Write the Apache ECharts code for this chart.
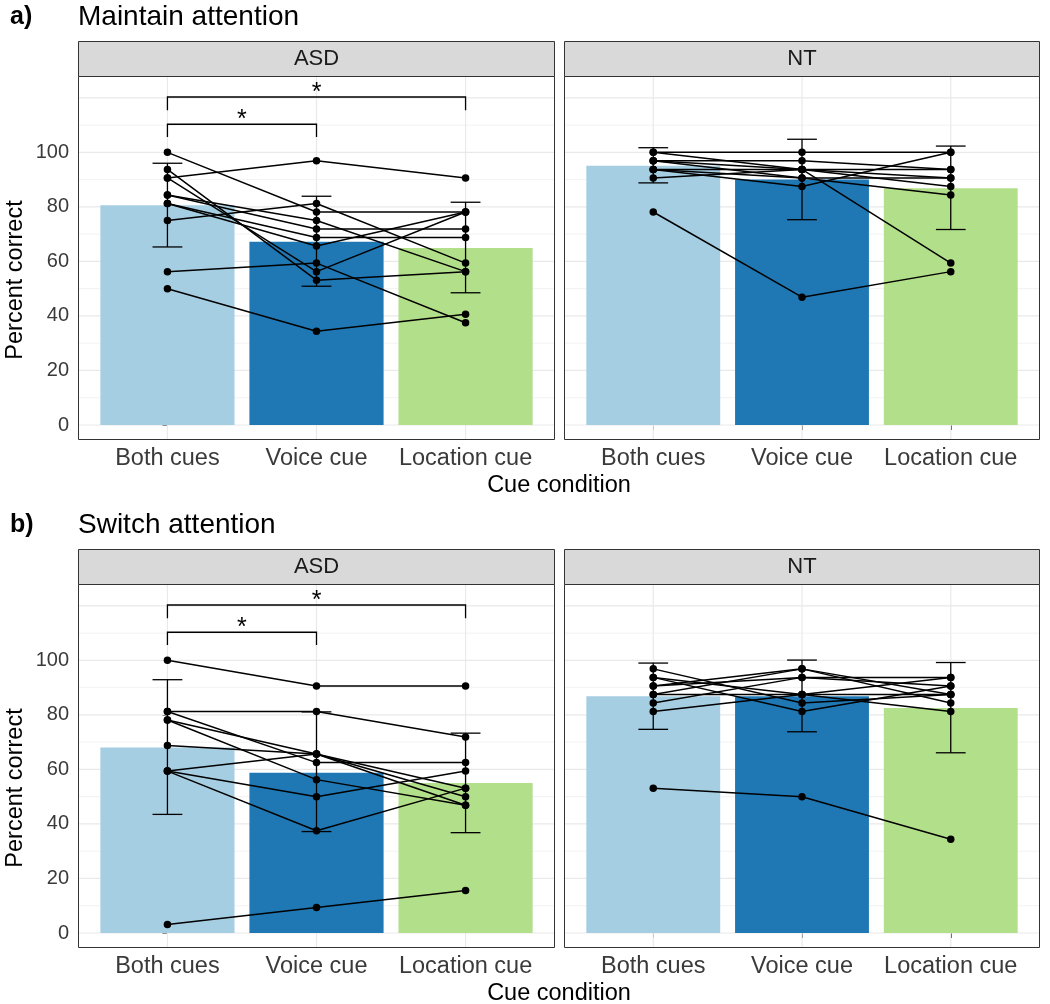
<!DOCTYPE html>
<html><head><meta charset="utf-8">
<script src="https://cdn.jsdelivr.net/npm/echarts@6/dist/echarts.min.js"></script>
<style>html,body{margin:0;padding:0;background:#fff}#c{width:1050px;height:1004px}</style>
</head><body><div id="c"></div><script>
// ---------- data ----------
const categories = ['Both cues', 'Voice cue', 'Location cue'];
const groups = ['ASD', 'NT'];
const sectionTags = ['a)', 'b)'];
const sectionTitles = ['Maintain attention', 'Switch attention'];
const yTickLabels = [0, 20, 40, 60, 80, 100];
const majorGrid = [0, 20, 40, 60, 80, 100, 120];
const minorGrid = [10, 30, 50, 70, 90, 110];
const barColors = ['#a6cee3', '#1f78b4', '#b2df8a'];

const maintainASDMean = [80.6, 67.2, 64.9];
const maintainASDLow = [65.3, 50.9, 48.5];
const maintainASDHigh = [96.0, 83.9, 81.7];
const maintainNTMean = [95.1, 90.0, 86.8];
const maintainNTLow = [88.8, 75.3, 71.7];
const maintainNTHigh = [101.7, 104.8, 102.3];
const switchASDMean = [68.0, 58.8, 55.0];
const switchASDLow = [43.5, 37.2, 36.8];
const switchASDHigh = [92.9, 81.1, 73.3];
const switchNTMean = [86.8, 86.8, 82.5];
const switchNTLow = [74.7, 73.8, 66.1];
const switchNTHigh = [99.0, 100.1, 99.2];

// individual participants: [Both, Voice, Location]
const maintainASDSubjects = [
  [100, 78.125, 78.125],
  [93.75, 53.125, 56.25],
  [90.625, 96.875, 90.625],
  [90.625, 56.25, 78.125],
  [84.375, 75, 56.25],
  [84.375, 71.875, 71.875],
  [81.25, 68.75, 68.75],
  [81.25, 65.625, 78.125],
  [75, 81.25, 59.375],
  [56.25, 59.375, 37.5],
  [50, 34.375, 40.625]
];
const maintainNTSubjects = [
  [100, 100, 100],
  [96.875, 96.875, 93.75],
  [96.875, 93.75, 59.375],
  [93.75, 90.625, 90.625],
  [100, 93.75, 93.75],
  [93.75, 87.5, 100],
  [90.625, 93.75, 87.5],
  [96.875, 90.625, 84.375],
  [78.125, 46.875, 56.25],
  [93.75, 93.75, 90.625]
];
const switchASDSubjects = [
  [100, 90.625, 90.625],
  [3.125, 9.375, 15.625],
  [81.25, 81.25, 71.875],
  [81.25, 62.5, 62.5],
  [78.125, 65.625, 50],
  [78.125, 56.25, 46.875],
  [68.75, 65.625, 53.125],
  [59.375, 65.625, 46.875],
  [59.375, 50, 59.375],
  [59.375, 37.5, 53.125]
];
const switchNTSubjects = [
  [96.875, 84.375, 87.5],
  [93.75, 81.25, 90.625],
  [90.625, 96.875, 84.375],
  [90.625, 93.75, 93.75],
  [87.5, 96.875, 87.5],
  [87.5, 87.5, 81.25],
  [84.375, 93.75, 90.625],
  [81.25, 87.5, 93.75],
  [93.75, 87.5, 87.5],
  [53.125, 50, 34.375]
];

// significance brackets (ASD panels)
const bracketFrom = [0, 0];
const bracketTo = [1, 2];
const bracketY = [110.3, 120.3];
const bracketTip = [105.6, 115.4];
const bracketLabel = ['*', '*'];

// ---------- layout ----------
const FONT = '"Liberation Sans", Arial, Helvetica, sans-serif';
const panelLeft = [78, 564];
const panelWidth = [477, 476];
const panelTop = [76, 584];
const panelHeight = 364;
const stripH = 35;
const yMin = -5.5, yMax = 128;
const xMin = -0.6, xMax = 2.6;
const tickTextColor = '#3a3a3a';

const panelDefs = [
  { row: 0, col: 0, mean: maintainASDMean, low: maintainASDLow, high: maintainASDHigh, subj: maintainASDSubjects, sig: true },
  { row: 0, col: 1, mean: maintainNTMean, low: maintainNTLow, high: maintainNTHigh, subj: maintainNTSubjects, sig: false },
  { row: 1, col: 0, mean: switchASDMean, low: switchASDLow, high: switchASDHigh, subj: switchASDSubjects, sig: true },
  { row: 1, col: 1, mean: switchNTMean, low: switchNTLow, high: switchNTHigh, subj: switchNTSubjects, sig: false }
];
const catIdx = categories.map((c, k) => k);

const grids = [], xAxes = [], yAxes = [], series = [], graphics = [];

panelDefs.forEach((p, i) => {
  const left = panelLeft[p.col], width = panelWidth[p.col], top = panelTop[p.row];
  grids.push({ left: left, top: top, width: width, height: panelHeight, containLabel: false });
  xAxes.push({
    gridIndex: i, type: 'value', min: xMin, max: xMax,
    axisLine: { show: false }, splitLine: { show: false },
    axisTick: { show: true, customValues: catIdx, length: 5, lineStyle: { color: '#333', width: 1 } },
    axisLabel: { customValues: catIdx, formatter: v => categories[Math.round(v)], fontSize: 23.5, color: tickTextColor, margin: 7, fontFamily: FONT }
  });
  const isLeft = p.col === 0;
  yAxes.push({
    gridIndex: i, type: 'value', min: yMin, max: yMax,
    axisLine: { show: false }, splitLine: { show: false },
    axisTick: { show: isLeft, customValues: yTickLabels, length: 5, lineStyle: { color: '#333', width: 1 } },
    axisLabel: { show: isLeft, customValues: yTickLabels, fontSize: 20, color: tickTextColor, margin: 9, fontFamily: FONT }
  });

  // grid lines
  const gdata = [].concat(
    majorGrid.map(v => [0, v, 0, 0]),
    minorGrid.map(v => [0, v, 0, 1]),
    catIdx.map(v => [v, 0, 1, 0])
  );
  series.push({
    type: 'custom', xAxisIndex: i, yAxisIndex: i, z: 1, silent: true, animation: false,
    data: gdata,
    renderItem: (params, api) => {
      const cs = params.coordSys;
      const minor = api.value(3) === 1;
      const style = { stroke: minor ? '#f1f1f1' : '#e9e9e9', lineWidth: minor ? 0.9 : 1.2 };
      if (api.value(2) === 0) {
        const y = api.coord([0, api.value(1)])[1];
        return { type: 'line', shape: { x1: cs.x, y1: y, x2: cs.x + cs.width, y2: y }, style };
      }
      const x = api.coord([api.value(0), 0])[0];
      return { type: 'line', shape: { x1: x, y1: cs.y, x2: x, y2: cs.y + cs.height }, style };
    }
  });

  // bars
  const bw = 0.9 * width / (xMax - xMin);
  series.push({
    type: 'bar', xAxisIndex: i, yAxisIndex: i, z: 2, silent: true, animation: false,
    barWidth: bw,
    data: p.mean.map((m, k) => ({ value: [k, m], itemStyle: { color: barColors[k] } }))
  });

  // error bars
  series.push({
    type: 'custom', xAxisIndex: i, yAxisIndex: i, z: 3, silent: true, animation: false,
    data: p.mean.map((m, k) => [k, p.low[k], p.high[k]]),
    renderItem: (params, api) => {
      const x = api.value(0);
      const lo = api.coord([x, api.value(1)]);
      const hi = api.coord([x, api.value(2)]);
      const half = api.size([0.2, 0])[0] / 2;
      const st = { stroke: '#000', lineWidth: 1.3 };
      return { type: 'group', children: [
        { type: 'line', shape: { x1: lo[0], y1: lo[1], x2: hi[0], y2: hi[1] }, style: st },
        { type: 'line', shape: { x1: lo[0] - half, y1: lo[1], x2: lo[0] + half, y2: lo[1] }, style: st },
        { type: 'line', shape: { x1: hi[0] - half, y1: hi[1], x2: hi[0] + half, y2: hi[1] }, style: st }
      ] };
    }
  });

  // individual participants
  p.subj.forEach(s => {
    series.push({
      type: 'line', xAxisIndex: i, yAxisIndex: i, z: 4, silent: true, animation: false,
      data: s.map((v, k) => [k, v]),
      symbol: 'circle', symbolSize: 7.5, showSymbol: true,
      lineStyle: { color: '#000', width: 1.5 }, itemStyle: { color: '#000' }
    });
  });

  // significance brackets
  if (p.sig) {
    series.push({
      type: 'custom', xAxisIndex: i, yAxisIndex: i, z: 4, silent: true, animation: false,
      data: bracketFrom.map((f, k) => [f, bracketY[k], bracketTo[k], bracketTip[k], k]),
      renderItem: (params, api) => {
        const a = api.coord([api.value(0), api.value(3)]);
        const b = api.coord([api.value(0), api.value(1)]);
        const c = api.coord([api.value(2), api.value(1)]);
        const d = api.coord([api.value(2), api.value(3)]);
        return { type: 'group', children: [
          { type: 'polyline', shape: { points: [a, b, c, d] }, style: { stroke: '#000', lineWidth: 1.3, fill: null } },
          { type: 'text', style: { text: bracketLabel[api.value(4)], x: (b[0] + c[0]) / 2, y: b[1] - 4, align: 'center', verticalAlign: 'middle', font: '25px ' + FONT, fill: '#000' } }
        ] };
      }
    });
  }

  // panel border
  graphics.push({ type: 'rect', z: 100, shape: { x: left + 0.5, y: top + 0.5, width: width - 1, height: panelHeight - 1 }, style: { fill: null, stroke: '#333', lineWidth: 1 } });
  // strip
  graphics.push({ type: 'rect', z: 100, shape: { x: left + 0.5, y: top - stripH + 0.5, width: width - 1, height: stripH }, style: { fill: '#d9d9d9', stroke: '#333', lineWidth: 1 } });
  graphics.push({ type: 'text', z: 101, x: left + width / 2, y: top - stripH / 2, style: { text: groups[p.col], align: 'center', verticalAlign: 'middle', font: '22px ' + FONT, fill: '#1a1a1a' } });
});

[0, 1].forEach(r => {
  const top = panelTop[r];
  graphics.push({ type: 'text', z: 101, x: 10, y: top - 59, style: { text: sectionTags[r], align: 'left', verticalAlign: 'middle', font: 'bold 25px ' + FONT, fill: '#000' } });
  graphics.push({ type: 'text', z: 101, x: 78, y: top - 59, style: { text: sectionTitles[r], align: 'left', verticalAlign: 'middle', font: '28px ' + FONT, fill: '#000' } });
  graphics.push({ type: 'text', z: 101, x: 16, y: top + panelHeight / 2 + 22, rotation: Math.PI / 2, style: { text: 'Percent correct', align: 'center', verticalAlign: 'middle', font: '23.5px ' + FONT, fill: '#000' } });
  graphics.push({ type: 'text', z: 101, x: 559, y: top + panelHeight + 46, style: { text: 'Cue condition', align: 'center', verticalAlign: 'middle', font: '23.5px ' + FONT, fill: '#000' } });
});

const chart = echarts.init(document.getElementById('c'), null, { renderer: 'canvas' });
chart.setOption({
  animation: false,
  backgroundColor: '#fff',
  grid: grids, xAxis: xAxes, yAxis: yAxes, series: series, graphic: graphics
});
</script></body></html>
